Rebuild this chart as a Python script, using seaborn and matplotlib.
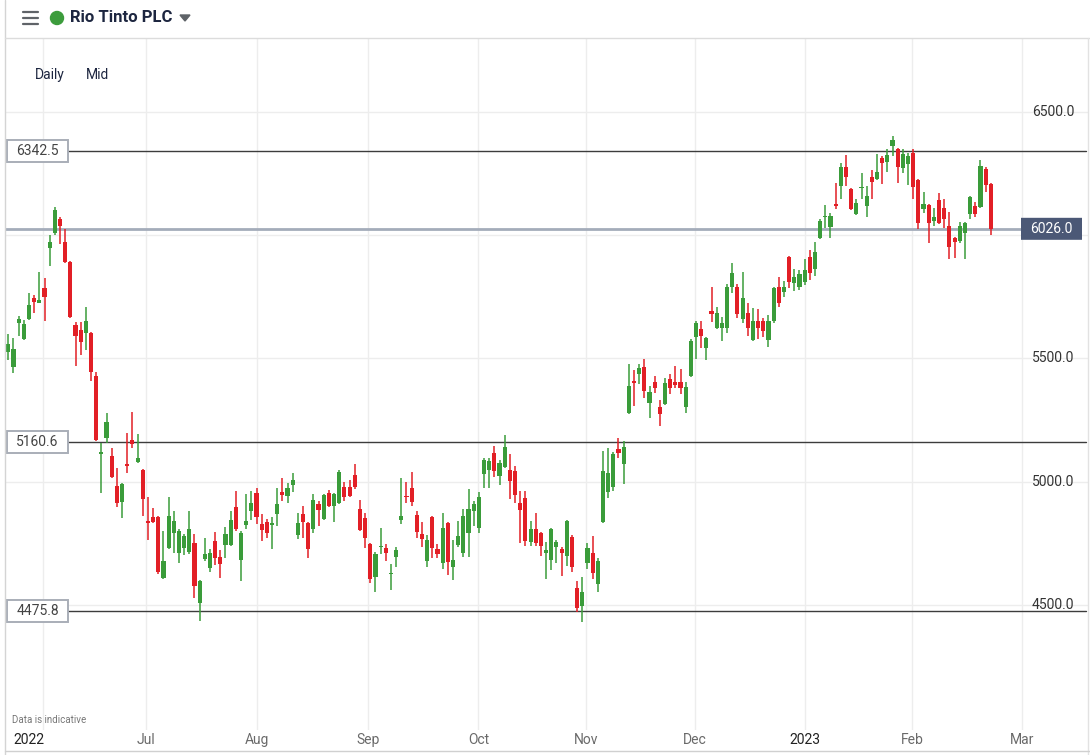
import numpy as np
import pandas as pd
import matplotlib.pyplot as plt
import matplotlib.transforms as mtransforms
from matplotlib.patches import Rectangle, FancyBboxPatch, Ellipse, Polygon
from matplotlib.lines import Line2D
import seaborn as sns

# daily candles, Rio Tinto PLC (mid), Jun 2022 - Feb 2023
opens = [5526, 5465, 5644, 5579, 5660, 5745, 5725, 5786, 5948, 6009,
         6066, 5973, 5891, 5636, 5616, 5603, 5603, 5429, 5113, 5177,
         5104, 4983, 4918, 5072, 5169, 5080, 5048, 4841, 4857, 4857,
         4609, 4731, 4792, 4711, 4731, 4715, 4751, 4508, 4687, 4650,
         4760, 4695, 4743, 4743, 4897, 4682, 4824, 4881, 4954, 4828,
         4837, 4824, 4869, 4958, 4942, 4987, 4784, 4869, 4833, 4808,
         4910, 4849, 4954, 4901, 4914, 4979, 4979, 5027, 4889, 4853,
         4747, 4613, 4735, 4731, 4626, 4695, 4845, 4942, 4975, 4865,
         4788, 4678, 4857, 4727, 4670, 4833, 4654, 4743, 4711, 4792,
         4881, 4812, 5031, 5048, 5117, 5023, 5060, 5048, 5044, 4914,
         4934, 4755, 4808, 4792, 4711, 4682, 4735, 4727, 4699, 4776,
         4569, 4496, 4670, 4711, 4585, 4837, 4958, 4979, 5133, 5072,
         5279, 5409, 5437, 5465, 5319, 5405, 5303, 5315, 5417, 5405,
         5405, 5303, 5429, 5587, 5620, 5542, 5693, 5624, 5624, 5624,
         5790, 5790, 5660, 5685, 5575, 5652, 5652, 5575, 5652, 5790,
         5770, 5912, 5806, 5790, 5810, 5912, 5863, 5989, 6074, 6033,
         6127, 6200, 6277, 6188, 6086, 6192, 6119, 6236, 6228, 6313,
         6297, 6362, 6350, 6273, 6289, 6334, 6224, 6106, 6123, 6058,
         6143, 6110, 6037, 5989, 5977, 6009, 6086, 6119, 6115, 6269,
         6208]
highs = [5599, 5583, 5672, 5656, 5766, 5758, 5851, 5827, 6001, 6115,
         6074, 6025, 5895, 5648, 5648, 5709, 5607, 5445, 5157, 5279,
         5137, 5056, 4995, 5198, 5283, 5194, 5052, 4938, 4893, 4861,
         4800, 4938, 4881, 4808, 4788, 4881, 4788, 4601, 4772, 4727,
         4796, 4723, 4816, 4881, 4962, 4800, 4950, 4962, 4975, 4869,
         4849, 4857, 4975, 5015, 4995, 5035, 4873, 4901, 4837, 4950,
         4922, 4950, 4966, 4954, 5048, 4999, 5007, 5072, 4926, 4873,
         4751, 4715, 4812, 4747, 4666, 4735, 5015, 4999, 5040, 4881,
         4837, 4784, 4861, 4747, 4873, 4837, 4764, 4841, 4889, 4970,
         4922, 4958, 5096, 5096, 5145, 5088, 5190, 5113, 5064, 4962,
         4962, 4841, 4873, 4796, 4755, 4812, 4764, 4735, 4845, 4784,
         4597, 4613, 4751, 4780, 4691, 5125, 5137, 5121, 5177, 5165,
         5478, 5453, 5478, 5498, 5388, 5429, 5332, 5421, 5437, 5470,
         5457, 5405, 5579, 5652, 5652, 5587, 5790, 5709, 5668, 5802,
         5887, 5802, 5851, 5725, 5705, 5701, 5664, 5676, 5790, 5831,
         5814, 5916, 5863, 5859, 5904, 5940, 5973, 6066, 6123, 6090,
         6212, 6293, 6326, 6192, 6147, 6253, 6200, 6265, 6330, 6321,
         6350, 6403, 6354, 6350, 6334, 6350, 6228, 6175, 6127, 6110,
         6171, 6147, 6094, 5993, 6054, 6054, 6159, 6135, 6305, 6277,
         6212]
lows = [5494, 5441, 5591, 5575, 5656, 5685, 5725, 5652, 5875, 6001,
        5964, 5887, 5664, 5470, 5514, 5534, 5409, 5165, 4954, 5157,
        5015, 4897, 4853, 5035, 5137, 5076, 4861, 4764, 4833, 4626,
        4605, 4727, 4711, 4670, 4703, 4707, 4528, 4435, 4678, 4634,
        4662, 4609, 4691, 4739, 4800, 4597, 4808, 4845, 4828, 4760,
        4772, 4727, 4820, 4922, 4914, 4958, 4768, 4772, 4691, 4792,
        4820, 4845, 4897, 4837, 4910, 4922, 4938, 4970, 4800, 4731,
        4589, 4553, 4707, 4678, 4561, 4654, 4828, 4914, 4901, 4772,
        4735, 4654, 4691, 4691, 4646, 4622, 4601, 4735, 4695, 4695,
        4820, 4792, 4975, 4975, 5019, 4987, 5056, 4930, 4914, 4751,
        4739, 4739, 4739, 4699, 4605, 4642, 4670, 4618, 4658, 4634,
        4471, 4431, 4646, 4605, 4553, 4833, 4934, 4962, 5096, 4991,
        5275, 5307, 5396, 5340, 5259, 5360, 5226, 5311, 5356, 5380,
        5356, 5279, 5425, 5498, 5542, 5494, 5648, 5620, 5571, 5603,
        5766, 5664, 5644, 5591, 5571, 5579, 5587, 5547, 5644, 5709,
        5749, 5786, 5774, 5778, 5798, 5818, 5835, 5985, 6029, 5989,
        6106, 6147, 6200, 6102, 6082, 6147, 6074, 6147, 6224, 6208,
        6257, 6321, 6212, 6253, 6204, 6147, 6025, 6090, 5968, 6037,
        6046, 6029, 5904, 5908, 5968, 5904, 6066, 6074, 6111, 6175,
        6001]
closes = [5559, 5538, 5660, 5640, 5717, 5729, 5737, 5749, 5973, 6102,
          6037, 5891, 5668, 5591, 5567, 5652, 5445, 5169, 5121, 5242,
          5019, 4914, 4991, 5064, 5153, 5096, 4930, 4833, 4837, 4634,
          4678, 4861, 4841, 4800, 4780, 4808, 4577, 4597, 4707, 4711,
          4691, 4666, 4788, 4845, 4808, 4792, 4841, 4914, 4857, 4804,
          4792, 4833, 4910, 4946, 4975, 5007, 4833, 4837, 4727, 4926,
          4885, 4946, 4901, 4950, 5040, 4938, 4942, 4979, 4804, 4772,
          4605, 4707, 4739, 4711, 4630, 4723, 4861, 4938, 4918, 4796,
          4768, 4764, 4731, 4707, 4812, 4674, 4682, 4780, 4861, 4889,
          4910, 4938, 5088, 5084, 5044, 5076, 5141, 5003, 4946, 4885,
          4760, 4808, 4751, 4739, 4723, 4808, 4755, 4711, 4841, 4654,
          4488, 4553, 4731, 4630, 4678, 5044, 5035, 5113, 5117, 5141,
          5388, 5401, 5461, 5368, 5364, 5380, 5275, 5401, 5380, 5392,
          5380, 5384, 5571, 5644, 5591, 5583, 5680, 5685, 5644, 5790,
          5847, 5680, 5745, 5624, 5652, 5624, 5612, 5652, 5786, 5725,
          5790, 5810, 5831, 5843, 5859, 5847, 5932, 6058, 6078, 6078,
          6119, 6277, 6236, 6106, 6131, 6196, 6159, 6216, 6257, 6293,
          6326, 6386, 6277, 6330, 6321, 6196, 6050, 6127, 6050, 6074,
          6050, 6066, 5952, 5973, 6037, 6050, 6155, 6086, 6281, 6204,
          6026]

month_labels = ['2022', 'Jul', 'Aug', 'Sep', 'Oct', 'Nov', 'Dec', '2023', 'Feb', 'Mar']
month_pos = [6.7, 26.6, 48.1, 69.6, 90.9, 111.7, 132.8, 154.1, 174.8, 196.1]
price_ticks = [4500, 5000, 5500, 6000, 6500]
levels = [6342.5, 5160.6, 4475.8]
last_price = 6026.0

df = pd.DataFrame({'open': opens, 'high': highs, 'low': lows, 'close': closes})
df['idx'] = np.arange(len(df))
df['up'] = df['close'] >= df['open']

sns.set_style('white')
plt.rcParams['font.family'] = ['Roboto', 'DejaVu Sans']

W, H = 1090, 755
GREEN, RED = '#3a9c3a', '#e21f26'
GRID = '#ededed'

fig = plt.figure(figsize=(W / 100, H / 100), dpi=100)
ax = fig.add_axes([5 / W, 1 - 730 / H, (1088 - 5) / W, (730 - 38) / H])
ax.set_xlim(-0.64, 208.8)
ax.set_ylim(3993, 6800)
for s in ax.spines.values():
    s.set_visible(False)
ax.set_xticks([])
ax.set_yticks([])
upp = (6800 - 3993) / (730 - 38)  # price units per pixel

# grid
for p in price_ticks:
    ax.axhline(p, color=GRID, lw=1, zorder=0)
for m in month_pos:
    ax.axvline(m, color=GRID, lw=1, zorder=0)

# candles
colors = np.where(df['up'], GREEN, RED)
ax.vlines(df['idx'], df['low'], df['high'], colors=colors, lw=1.1, zorder=3)
body_lo = df[['open', 'close']].min(axis=1)
body_h = np.maximum((df['close'] - df['open']).abs(), 1.2 * upp)
ax.bar(df['idx'], body_h, bottom=body_lo, width=0.8, color=colors, lw=0, zorder=4)

# right price labels (the 6000 one sits under the last-price tag)
bt = mtransforms.blended_transform_factory(ax.transAxes, ax.transData)
for p in price_ticks:
    if abs(p - last_price) < 60:
        continue
    ax.text(0.9875, p, f'{p:.1f}', transform=bt, ha='right', va='center',
            fontsize=10, color='#333333', zorder=5)

# horizontal levels with boxes on the left
x0 = (7 - 5) / 1083
x1 = (68 - 5) / 1083
for lv in levels:
    ax.axhline(lv, xmin=x1, xmax=0.998, color='#3c3c3c', lw=1, zorder=2)
    ax.add_patch(Rectangle((x0, lv - 11 * upp), x1 - x0, 22 * upp, transform=bt,
                           facecolor='white', edgecolor='#a9aeb8', lw=1.4, zorder=6))
    ax.text((x0 + x1) / 2, lv, f'{lv:.1f}', transform=bt, ha='center', va='center',
            fontsize=10, color='#444444', zorder=7)

# last price
bx0 = (1021 - 5) / 1083
bx1 = (1082 - 5) / 1083
ax.axhline(last_price, xmin=0, xmax=bx0, color='#a4acba', lw=2, zorder=2)
ax.add_patch(FancyBboxPatch((bx0, last_price - 11 * upp), bx1 - bx0, 22 * upp,
                            boxstyle='round,pad=0,rounding_size=0.002', transform=bt,
                            facecolor='#4b5876', edgecolor='none', zorder=6))
ax.text((bx0 + bx1) / 2, last_price, f'{last_price:.1f}', transform=bt, ha='center',
        va='center', fontsize=10, color='white', zorder=7)

# month labels
mt = mtransforms.blended_transform_factory(ax.transData, fig.transFigure)
for lab, m in zip(month_labels, month_pos):
    is_year = lab.isdigit()
    ax.text(m + (0.3 if lab == '2022' else 0), 1 - 740 / H, lab,
            transform=mt, ha='right' if lab == '2022' else 'center', va='center',
            fontsize=10, color='#222222' if is_year else '#6a6a6a', clip_on=False)


def fx(x):
    return x / W


def fy(y):
    return 1 - y / H


# frame lines
fig.add_artist(Line2D([fx(5), fx(5)], [fy(0), fy(755)], color='#d4d4d4', lw=1))
fig.add_artist(Line2D([fx(5), fx(1090)], [fy(37.5), fy(37.5)], color='#dcdcdc', lw=1))
fig.add_artist(Line2D([fx(1088), fx(1088)], [fy(38), fy(755)], color='#e2e2e2', lw=1))
fig.add_artist(Line2D([fx(5), fx(1090)], [fy(751), fy(751)], color='#d0d0d0', lw=1))

# header
for yy in (12, 18, 24):
    fig.add_artist(Line2D([fx(23), fx(38)], [fy(yy), fy(yy)], color='#5f6368', lw=1.6))
fig.add_artist(Ellipse((fx(57), fy(18)), 13 / W, 13 / H, color='#3c9c3c'))
fig.text(fx(70), fy(18), 'Rio Tinto PLC', fontsize=12, fontweight='bold',
         color='#1d2640', va='center', ha='left')
fig.add_artist(Polygon([[fx(180), fy(15)], [fx(190), fy(15)], [fx(185), fy(21)]],
                       closed=True, color='#5f6368'))
fig.text(fx(35), fy(75), 'Daily', fontsize=10, color='#1d2640', va='center')
fig.text(fx(86), fy(75), 'Mid', fontsize=10, color='#1d2640', va='center')
fig.text(fx(12), fy(720), 'Data is indicative', fontsize=7, color='#777777', va='center')

fig.savefig('out.png', dpi=100)
